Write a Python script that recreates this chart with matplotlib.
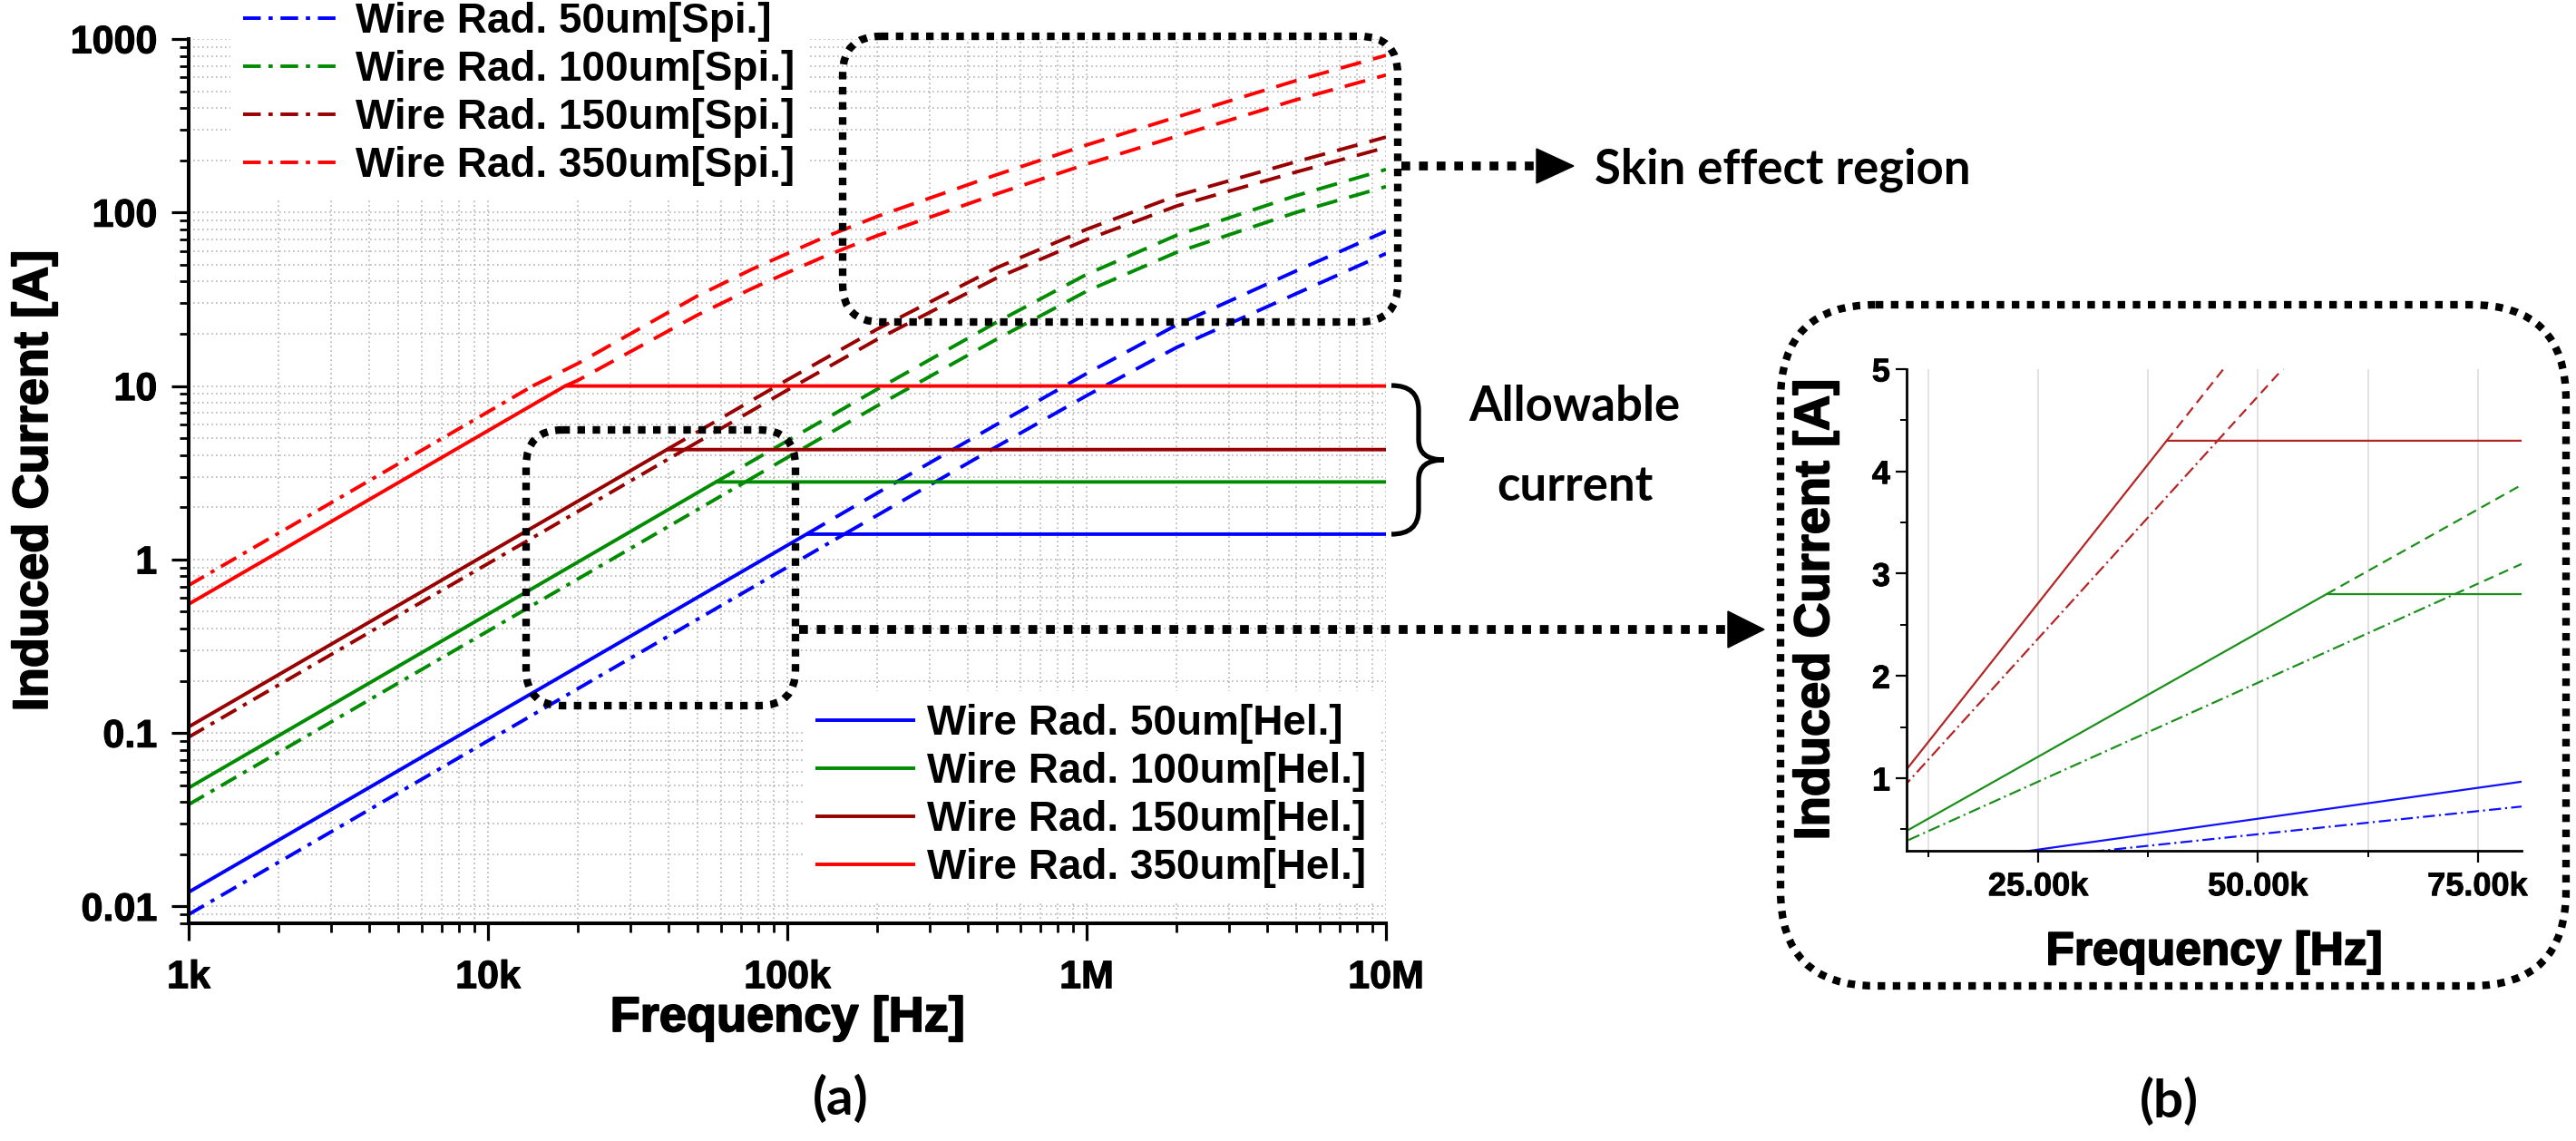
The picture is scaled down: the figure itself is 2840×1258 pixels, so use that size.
import matplotlib
matplotlib.use('Agg')
import matplotlib.pyplot as plt
import matplotlib.patheffects as pe
from matplotlib.patches import FancyBboxPatch, Polygon, PathPatch
from matplotlib.path import Path
from matplotlib.lines import Line2D
from matplotlib.transforms import Affine2D
from matplotlib.ticker import NullFormatter, FixedLocator

W, H = 2840, 1258

# ---------------- data ----------------
radius = ['50um', '100um', '150um', '350um']
colors = ['#0000ff', '#008c00', '#990000', '#ff0000']
colors_inset = ['#1010ff', '#1a8f1a', '#b52525', '#ff0000']

limit = [1.4, 2.8, 4.3, 10.0]               # allowable current [A]
hel_1k = [0.0121, 0.0483, 0.1085, 0.553]    # helical coil, current at 1 kHz
spi_1k = [0.0090, 0.0387, 0.0947, 0.71]     # spiral coil, current at 1 kHz
hel_knee = [116e3, 57.8e3, 39.6e3, 18.1e3]  # frequency where helical reaches limit
spi_knee = [155e3, 72.4e3, 45.4e3, 14.1e3]  # frequency where spiral reaches limit

# unrestricted current above the limit (skin effect region)
hel_skin_f = [
    [116e3, 200e3, 500e3, 1e6, 2e6, 5e6, 10e6],
    [57.8e3, 100e3, 200e3, 500e3, 1e6, 2e6, 5e6, 10e6],
    [39.6e3, 100e3, 200e3, 500e3, 1e6, 2e6, 5e6, 10e6],
    [18.1e3, 20e3, 50e3, 76e3, 100e3, 133e3, 200e3, 500e3, 1e6, 2e6, 5e6, 10e6],
]
hel_skin_i = [
    [1.4, 2.42, 6.0, 11.8, 22.5, 46, 78],
    [2.8, 4.83, 9.6, 23.3, 44, 74, 125, 177],
    [4.3, 10.85, 21.3, 48, 80, 125, 196, 272],
    [10.0, 10.8, 25.6, 36.4, 45, 55.8, 73.6, 128, 190, 275, 446, 620],
]
spi_skin_f = [
    [155e3, 200e3, 500e3, 1e6, 2e6, 5e6, 10e6],
    [72.4e3, 100e3, 200e3, 500e3, 1e6, 2e6, 5e6, 10e6],
    [45.4e3, 100e3, 200e3, 500e3, 1e6, 2e6, 5e6, 10e6],
    [14.1e3, 20e3, 50e3, 76e3, 100e3, 133e3, 200e3, 500e3, 1e6, 2e6, 5e6, 10e6],
]
spi_skin_i = [
    [1.4, 1.8, 4.47, 8.8, 16.7, 34, 58],
    [2.8, 3.87, 7.7, 18.6, 35.2, 59, 100, 141],
    [4.3, 9.47, 18.6, 41.9, 69.8, 109, 171, 237],
    [10.0, 13.5, 33, 47, 58, 72, 95, 165, 245, 355, 575, 805],
]

xticks = [1e3, 1e4, 1e5, 1e6, 1e7]
xtick_labels = ['1k', '10k', '100k', '1M', '10M']
yticks = [0.01, 0.1, 1, 10, 100, 1000]
ytick_labels = ['0.01', '0.1', '1', '10', '100', '1000']
inset_xticks = [25e3, 50e3, 75e3]
inset_xtick_labels = ['25.00k', '50.00k', '75.00k']
inset_yticks = [1, 2, 3, 4, 5]

plt.rcParams['font.family'] = ['Liberation Sans', 'DejaVu Sans']
plt.rcParams['font.weight'] = 'bold'

fig = plt.figure(figsize=(W / 100, H / 100), dpi=100)
fig.patch.set_facecolor('white')


def fr(x0, y0, x1, y1):
    # pixel box (y from top) -> figure fraction rect
    return [x0 / W, 1 - y1 / H, (x1 - x0) / W, (y1 - y0) / H]


px = Affine2D().scale(1 / W, -1 / H).translate(0, 1) + fig.transFigure
heavy = [pe.withStroke(linewidth=1.3, foreground='black')]

DASH = (0, (6, 3.5))
DASHDOT = (0, (5, 2.2, 1.2, 2.2))

# ---------------- (a) main log-log plot ----------------
ax = fig.add_axes(fr(208, 43, 1528, 1018))
hel_lines, spi_lines = [], []
for i in range(4):
    c = colors[i]
    h, = ax.plot([1e3, hel_knee[i], 1e7], [hel_1k[i], limit[i], limit[i]],
                 color=c, lw=2.8, solid_capstyle='butt',
                 label='Wire Rad. %s[Hel.]' % radius[i])
    ax.plot(hel_skin_f[i], hel_skin_i[i], color=c, lw=2.8, ls=DASH)
    s, = ax.plot([1e3, spi_knee[i]], [spi_1k[i], limit[i]], color=c, lw=2.8,
                 ls=DASHDOT, label='Wire Rad. %s[Spi.]' % radius[i])
    ax.plot(spi_skin_f[i], spi_skin_i[i], color=c, lw=2.8, ls=DASH)
    hel_lines.append(h)
    spi_lines.append(s)

ax.set_xscale('log')
ax.set_yscale('log')
ax.set_xlim(1e3, 1e7)
ax.set_ylim(0.0080, 1000)
ax.set_xticks(xticks)
ax.set_xticklabels(xtick_labels)
ax.set_yticks(yticks)
ax.set_yticklabels(ytick_labels)
ax.xaxis.set_minor_formatter(NullFormatter())
ax.yaxis.set_minor_formatter(NullFormatter())
for sp in ['top', 'right']:
    ax.spines[sp].set_visible(False)
for sp in ['left', 'bottom']:
    ax.spines[sp].set_linewidth(2.9)
ax.tick_params(which='major', direction='out', length=14, width=2.3,
               labelsize=31)
ax.tick_params(which='minor', direction='out', length=7.5, width=2.0)
ax.tick_params(axis='y', which='major', pad=11)
ax.tick_params(axis='x', which='major', pad=15)
for t in ax.get_xticklabels() + ax.get_yticklabels():
    t.set_path_effects([pe.withStroke(linewidth=0.8, foreground='black')])
ax.grid(True, which='both', ls=(0, (1, 2)), color='#b5b5b5', lw=1.2)
ax.set_xlabel('Frequency [Hz]', fontsize=39, fontweight='bold', va='center',
              path_effects=heavy)
ax.set_ylabel('Induced Current [A]', fontsize=39, fontweight='bold', va='center',
              path_effects=heavy)
ax.xaxis.set_label_coords(0.5, -(1123 - 1018) / 975)
ax.yaxis.set_label_coords((38 - 208) / 1320, 0.5)

leg_prop = {'family': 'Liberation Sans', 'weight': 'bold', 'size': 33}
leg1 = ax.legend(handles=spi_lines, loc='upper left', prop=leg_prop,
                 bbox_to_anchor=(254 / W, 1 + 12 / H), bbox_transform=fig.transFigure,
                 handlelength=2.4, handletextpad=0.3, labelspacing=0.2,
                 borderpad=0.3, borderaxespad=0, frameon=True, fancybox=False,
                 facecolor='white', edgecolor='none', framealpha=1)
ax.add_artist(leg1)
ax.legend(handles=hel_lines, loc='upper left', prop=leg_prop,
          bbox_to_anchor=(885 / W, 1 - 762 / H), bbox_transform=fig.transFigure,
          handlelength=2.4, handletextpad=0.3, labelspacing=0.2,
          borderpad=0.3, borderaxespad=0, frameon=True, fancybox=False,
          facecolor='white', edgecolor='none', framealpha=1)

# ---------------- (b) linear zoom ----------------
ax2 = fig.add_axes(fr(2102, 407, 2780, 938))
for i in range(4):
    c = colors_inset[i]
    ax2.plot([1e3, hel_knee[i], 1e7], [hel_1k[i], limit[i], limit[i]], color=c, lw=1.6)
    ax2.plot(hel_skin_f[i], hel_skin_i[i], color=c, lw=1.6, ls=(0, (5, 3)))
    ax2.plot([1e3, spi_knee[i]], [spi_1k[i], limit[i]], color=c, lw=1.6,
             ls=(0, (6, 2, 1, 2)))
    ax2.plot(spi_skin_f[i], spi_skin_i[i], color=c, lw=1.6, ls=(0, (5, 3)))
ax2.set_xlim(10e3, 80e3)
ax2.set_ylim(0.29, 5)
ax2.set_xticks(inset_xticks)
ax2.set_xticklabels(inset_xtick_labels)
ax2.xaxis.set_minor_locator(FixedLocator([12.5e3, 37.5e3, 62.5e3]))
ax2.set_yticks(inset_yticks)
ax2.yaxis.set_minor_locator(FixedLocator([0.5, 1.5, 2.5, 3.5, 4.5]))
for sp in ['top', 'right']:
    ax2.spines[sp].set_visible(False)
for sp in ['left', 'bottom']:
    ax2.spines[sp].set_linewidth(2.0)
ax2.tick_params(which='major', direction='out', length=9, width=1.6, labelsize=26)
ax2.tick_params(which='minor', direction='out', length=5, width=1.4)
ax2.tick_params(axis='y', pad=4)
ax2.tick_params(axis='x', pad=7)
for t in ax2.get_xticklabels() + ax2.get_yticklabels():
    t.set_path_effects([pe.withStroke(linewidth=0.6, foreground='black')])
ax2.grid(True, axis='x', which='both', color='#dddddd', lw=1.2)
ax2.set_xlabel('Frequency [Hz]', fontsize=37, fontweight='bold', va='center',
               path_effects=heavy)
ax2.set_ylabel('Induced Current [A]', fontsize=39, fontweight='bold', va='center',
               path_effects=heavy)
ax2.xaxis.set_label_coords(0.5, -(1050 - 938) / 531)
ax2.yaxis.set_label_coords((2002 - 2102) / 678, 0.5)

# ---------------- annotations ----------------
DOT = (0, (1, 1))


def rbox(x0, y0, x1, y1, r):
    p = FancyBboxPatch((x0, y0), x1 - x0, y1 - y0,
                       boxstyle='round,pad=0,rounding_size=%d' % r,
                       transform=px, fill=False, ec='black', lw=6, ls=DOT)
    fig.add_artist(p)


def dot_arrow(x0, x1, y, head_w, head_h):
    fig.add_artist(Line2D([x0, x1 - head_w], [y, y], transform=px, color='black',
                          lw=7, ls=DOT, solid_capstyle='butt'))
    fig.add_artist(Polygon([(x1 - head_w, y - head_h / 2), (x1, y),
                            (x1 - head_w, y + head_h / 2)], closed=True,
                           transform=px, color='black'))


rbox(929, 40, 1541, 355, 42)
rbox(580, 474, 877, 778, 40)
rbox(1963, 336, 2829, 1087, 105)
dot_arrow(1545, 1735, 183, 41, 38)
dot_arrow(881, 1945, 694, 40, 40)

# curly brace for the allowable current
brace = Path([(1534, 425), (1564, 425), (1564, 452), (1564, 485),
              (1564, 507), (1592, 507), (1564, 507), (1564, 529),
              (1564, 562), (1564, 589), (1534, 589)],
             [Path.MOVETO, Path.CURVE3, Path.CURVE3, Path.LINETO,
              Path.CURVE3, Path.CURVE3, Path.CURVE3, Path.CURVE3,
              Path.LINETO, Path.CURVE3, Path.CURVE3])
fig.add_artist(PathPatch(brace, transform=px, fill=False, ec='black', lw=3.8))

note = {'family': ['Lato', 'DejaVu Sans'], 'weight': 'bold', 'size': 38}
fig.text(1758 / W, 1 - 202 / H, 'Skin effect region', ha='left', va='baseline', **note)
fig.text(1736 / W, 1 - 464 / H, 'Allowable', ha='center', va='baseline', **note)
fig.text(1736 / W, 1 - 552 / H, 'current', ha='center', va='baseline', **note)
fig.text(927 / W, 1 - 1212 / H, '(a)', ha='center', va='center', **dict(note, size=42))
fig.text(2391 / W, 1 - 1215 / H, '(b)', ha='center', va='center', **dict(note, size=42))

fig.savefig('out.png', dpi=100, facecolor='white')
